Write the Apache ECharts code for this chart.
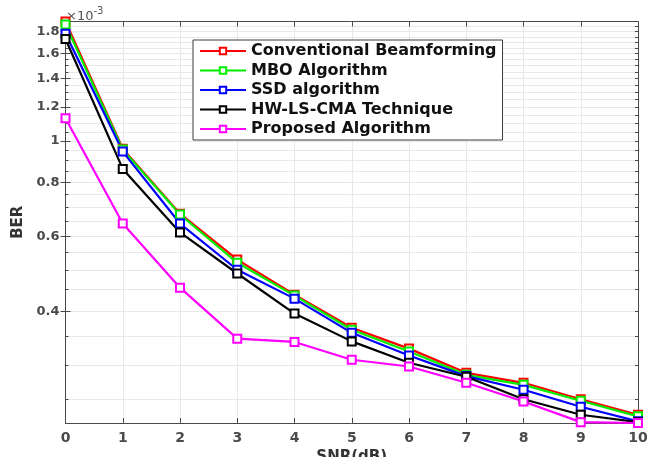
<!DOCTYPE html>
<html>
<head>
<meta charset="utf-8">
<script src="https://cdn.jsdelivr.net/npm/echarts@6/dist/echarts.min.js"></script>
<style>
  html, body { margin: 0; padding: 0; background: #ffffff; }
  #chart { width: 651px; height: 457px; }
</style>
</head>
<body>
<div id="chart"></div>
<script>
// SNR sweep (dB)
const snr = [0, 1, 2, 3, 4, 5, 6, 7, 8, 9, 10];

// Bit error rate, in units of 1e-3
const conventional = [1.90, 0.960, 0.677, 0.529, 0.438, 0.367, 0.328, 0.288, 0.273, 0.250, 0.230];
const mbo          = [1.87, 0.955, 0.674, 0.520, 0.436, 0.363, 0.323, 0.285, 0.270, 0.248, 0.228];
const ssd          = [1.78, 0.945, 0.642, 0.501, 0.429, 0.357, 0.316, 0.283, 0.263, 0.240, 0.222];
const hwLsCma      = [1.73, 0.861, 0.612, 0.491, 0.396, 0.341, 0.304, 0.282, 0.250, 0.230, 0.221];
const proposed     = [1.13, 0.642, 0.455, 0.346, 0.340, 0.309, 0.298, 0.273, 0.247, 0.221, 0.220];

const seriesNames = ['Conventional Beamforming', 'MBO Algorithm', 'SSD algorithm', 'HW-LS-CMA Technique', 'Proposed Algorithm'];

// Labelled y ticks and the finer grid steps (units of 1e-3)
const yMajorTicks = [0.4, 0.6, 0.8, 1, 1.2, 1.4, 1.6, 1.8];
const yMinorTicks = [0.25, 0.3, 0.35, 0.4, 0.45, 0.5, 0.55, 0.6, 0.65, 0.7, 0.75, 0.8, 0.85, 0.9, 0.95,
                     1, 1.05, 1.1, 1.15, 1.2, 1.25, 1.3, 1.35, 1.4, 1.45, 1.5, 1.55, 1.6, 1.65, 1.7, 1.75, 1.8, 1.85];

const Y_MIN = 0.22, Y_MAX = 1.9;
const FONT = 'DejaVu Sans';
const AXIS_COLOR = '#4a4a4a';
const GRID_COLOR = '#e8e8e8';

function pairs(values) { return snr.map((x, i) => [x, values[i]]); }

function makeLine(name, values, color) {
  return {
    name: name,
    type: 'line',
    data: pairs(values),
    symbol: 'emptyRect',
    symbolSize: 8,
    lineStyle: { color: color, width: 2.2 },
    itemStyle: { color: color, borderColor: color, borderWidth: 1.8 },
    emphasis: { disabled: true },
    clip: false
  };
}

function logAxis(position, tickValues, tickLen, opts) {
  return Object.assign({
    type: 'log',
    logBase: 10,
    min: Y_MIN,
    max: Y_MAX,
    position: position,
    axisLine: { show: false },
    axisTick: { show: true, inside: true, length: tickLen, customValues: tickValues, lineStyle: { color: AXIS_COLOR, width: 1 } },
    axisLabel: { show: false },
    splitLine: { show: false },
    minorTick: { show: false },
    minorSplitLine: { show: false }
  }, opts || {});
}

const chart = echarts.init(document.getElementById('chart'), null, { renderer: 'canvas' });

chart.setOption({
  backgroundColor: '#ffffff',
  animation: false,
  grid: { left: 65.5, right: 13, top: 21.5, bottom: 34, containLabel: false, outerBoundsMode: 'none' },
  legend: {
    orient: 'vertical',
    left: 193,
    top: 40,
    itemWidth: 46,
    itemHeight: 8,
    itemGap: 3.5,
    padding: [3, 6, 3, 6],
    borderColor: '#3a3a3a',
    borderWidth: 1,
    backgroundColor: '#ffffff',
    textStyle: { fontFamily: FONT, fontWeight: 'bold', fontSize: 16, color: '#111111' },
    data: seriesNames
  },
  graphic: [{
    type: 'text',
    left: 66,
    top: 6,
    style: {
      text: '{b|×10}{s|-3}',
      rich: {
        b: { fontFamily: FONT, fontSize: 13, fill: '#555555', verticalAlign: 'bottom' },
        s: { fontFamily: FONT, fontSize: 10, fill: '#555555', verticalAlign: 'top', padding: [0, 0, 7, 0] }
      }
    }
  }],
  xAxis: [{
    type: 'value',
    min: 0,
    max: 10,
    interval: 1,
    position: 'bottom',
    name: 'SNR(dB)',
    nameLocation: 'middle',
    nameGap: 21,
    nameTextStyle: { fontFamily: FONT, fontWeight: 'bold', fontSize: 15, color: '#333333' },
    axisLine: { show: true, onZero: false, lineStyle: { color: AXIS_COLOR, width: 1 } },
    axisTick: { show: true, inside: true, length: 5, lineStyle: { color: AXIS_COLOR } },
    axisLabel: { fontFamily: FONT, fontWeight: 'bold', fontSize: 14, color: AXIS_COLOR, margin: 8 },
    splitLine: { show: true, lineStyle: { color: GRID_COLOR, width: 1 } }
  }, {
    type: 'value',
    min: 0,
    max: 10,
    interval: 1,
    position: 'top',
    axisLine: { show: true, onZero: false, lineStyle: { color: AXIS_COLOR, width: 1 } },
    axisTick: { show: true, inside: true, length: 5, lineStyle: { color: AXIS_COLOR } },
    axisLabel: { show: false },
    splitLine: { show: false }
  }],
  yAxis: [
    logAxis('left', yMinorTicks, 3, {
      name: 'BER',
      nameLocation: 'middle',
      nameGap: 36,
      nameTextStyle: { fontFamily: FONT, fontWeight: 'bold', fontSize: 15, color: '#333333' },
      axisLine: { show: true, onZero: false, lineStyle: { color: AXIS_COLOR, width: 1 } },
      axisLabel: {
        show: true,
        customValues: yMajorTicks,
        fontFamily: FONT, fontWeight: 'bold', fontSize: 13, color: AXIS_COLOR, margin: 6,
        formatter: v => String(Math.round(v * 100) / 100)
      },
      splitLine: { show: true, lineStyle: { color: GRID_COLOR, width: 1 } }
    }),
    logAxis('left', yMajorTicks, 5),
    logAxis('right', yMinorTicks, 3, {
      axisLine: { show: true, onZero: false, lineStyle: { color: AXIS_COLOR, width: 1 } }
    }),
    logAxis('right', yMajorTicks, 5)
  ],
  series: [
    makeLine(seriesNames[0], conventional, '#ff0000'),
    makeLine(seriesNames[1], mbo, '#00ee00'),
    makeLine(seriesNames[2], ssd, '#0000ff'),
    makeLine(seriesNames[3], hwLsCma, '#000000'),
    makeLine(seriesNames[4], proposed, '#ff00ff')
  ]
});
</script>
</body>
</html>
